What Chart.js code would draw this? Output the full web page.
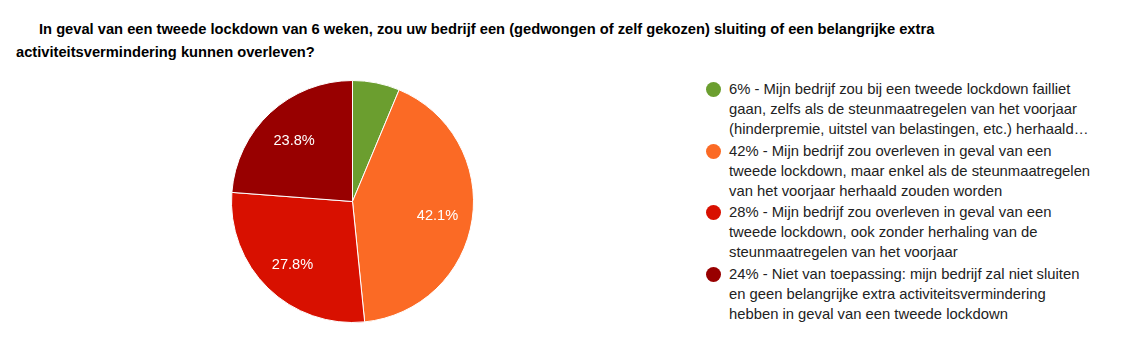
<!DOCTYPE html>
<html>
<head>
<meta charset="utf-8">
<script src="https://cdn.jsdelivr.net/npm/chart.js@4.4.0/dist/chart.umd.min.js"></script>
<style>
  html, body { margin: 0; padding: 0; background: #fff; }
  body { width: 1122px; height: 354px; position: relative; overflow: hidden; font-family: "Liberation Sans", Arial, sans-serif; }
  #title { position: absolute; left: 16px; top: 18px; width: 1060px; font-size: 14.7px; font-weight: bold; line-height: 23px; color: #000; text-indent: 23px; }
  #chartBox { position: absolute; left: 231px; top: 80px; width: 243px; height: 243px; }
  #legend { position: absolute; left: 706px; top: 79px; width: 410px; font-size: 14.8px; line-height: 20px; color: #222; }
  .item { position: relative; padding-left: 23px; margin-bottom: 1.7px; white-space: pre; }
  .dot { position: absolute; left: 0px; top: 3px; width: 15px; height: 15px; border-radius: 50%; }
</style>
</head>
<body>
<div id="title">In geval van een tweede lockdown van 6 weken, zou uw bedrijf een (gedwongen of zelf gekozen) sluiting of een belangrijke extra<br>activiteitsvermindering kunnen overleven?</div>
<div id="chartBox"><canvas id="c"></canvas></div>
<div id="legend"></div>
<script>
const categories = [
  "6% - Mijn bedrijf zou bij een tweede lockdown failliet\ngaan, zelfs als de steunmaatregelen van het voorjaar\n(hinderpremie, uitstel van belastingen, etc.) herhaald…",
  "42% - Mijn bedrijf zou overleven in geval van een\ntweede lockdown, maar enkel als de steunmaatregelen\nvan het voorjaar herhaald zouden worden",
  "28% - Mijn bedrijf zou overleven in geval van een\ntweede lockdown, ook zonder herhaling van de\nsteunmaatregelen van het voorjaar",
  "24% - Niet van toepassing: mijn bedrijf zal niet sluiten\nen geen belangrijke extra activiteitsvermindering\nhebben in geval van een tweede lockdown"
];
const values = [6.3, 42.1, 27.8, 23.8];
const colors = ["#6b9e2f", "#fb6a25", "#d81000", "#980000"];

const sliceLabels = {
  id: 'sliceLabels',
  afterDatasetsDraw(chart) {
    const ctx = chart.ctx;
    const meta = chart.getDatasetMeta(0);
    const data = chart.data.datasets[0].data;
    const total = data.reduce((a, b) => a + b, 0);
    ctx.save();
    ctx.font = '14.6px "Liberation Sans", Arial, sans-serif';
    ctx.fillStyle = '#fff';
    ctx.textAlign = 'center';
    ctx.textBaseline = 'middle';
    meta.data.forEach((arc, i) => {
      const pct = data[i] / total * 100;
      if (pct < 10) return;
      const mid = (arc.startAngle + arc.endAngle) / 2;
      const r = arc.outerRadius * 0.71;
      const x = arc.x + Math.cos(mid) * r;
      const y = arc.y + Math.sin(mid) * r + 2;
      ctx.fillText(pct.toFixed(1) + '%', x, y);
    });
    ctx.restore();
  }
};

const chart = new Chart(document.getElementById('c'), {
  type: 'pie',
  data: {
    labels: categories,
    datasets: [{
      data: values,
      backgroundColor: colors,
      borderColor: '#fff',
      borderWidth: 1,
      hoverOffset: 0
    }]
  },
  options: {
    responsive: true,
    maintainAspectRatio: false,
    animation: false,
    layout: { padding: 0 },
    plugins: { legend: { display: false }, tooltip: { enabled: false }, title: { display: false } }
  },
  plugins: [sliceLabels]
});

const legend = document.getElementById('legend');
chart.data.labels.forEach((lab, i) => {
  const item = document.createElement('div');
  item.className = 'item';
  const dot = document.createElement('span');
  dot.className = 'dot';
  dot.style.background = chart.data.datasets[0].backgroundColor[i];
  item.appendChild(dot);
  item.appendChild(document.createTextNode(lab));
  legend.appendChild(item);
});
</script>
</body>
</html>
